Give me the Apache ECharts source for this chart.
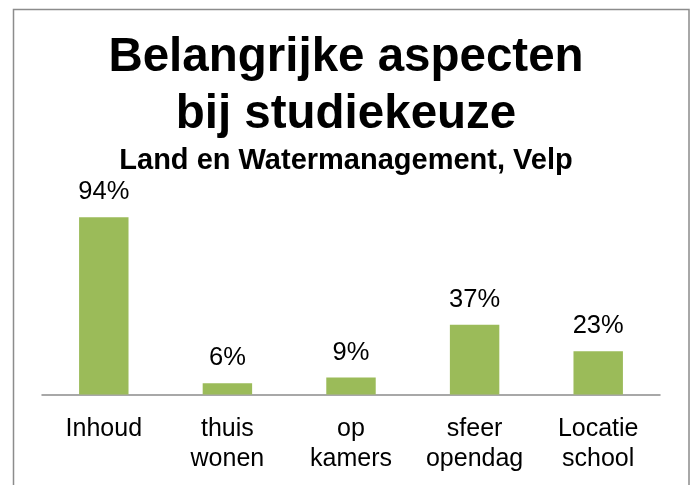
<!DOCTYPE html>
<html>
<head>
<meta charset="utf-8">
<script src="https://cdn.jsdelivr.net/npm/echarts@6/dist/echarts.min.js"></script>
<style>
html,body{margin:0;padding:0;background:#fff;}
#chart{width:692px;height:485px;}
</style>
</head>
<body>
<div id="chart"></div>
<script>
const categories = ["Inhoud", "thuis\nwonen", "op\nkamers", "sfeer\nopendag", "Locatie\nschool"];
const values = [94, 6, 9, 37, 23];
const titleLines = ["Belangrijke aspecten", "bij studiekeuze"];
const subtitle = "Land en Watermanagement, Velp";

const chart = echarts.init(document.getElementById('chart'), null, {renderer: 'canvas'});
const font = 'Liberation Sans, Arial, sans-serif';
chart.setOption({
  animation: false,
  backgroundColor: '#ffffff',
  graphic: [{
    type: 'rect',
    shape: {x: 13.5, y: 9.5, width: 675.5, height: 490},
    style: {fill: 'none', stroke: '#8c8c8c', lineWidth: 1.5},
    silent: true
  }],
  title: [{
    text: titleLines.join('\n'),
    left: 'center',
    top: 25,
    textStyle: {fontFamily: font, fontSize: 47.5, fontWeight: 'bold', color: '#000', lineHeight: 56.5}
  }, {
    text: subtitle,
    left: 'center',
    top: 141,
    textStyle: {fontFamily: font, fontSize: 29, fontWeight: 'bold', color: '#000', lineHeight: 29}
  }],
  grid: {left: 42, right: 32, top: 206, bottom: 90.5, containLabel: false},
  xAxis: {
    type: 'category',
    data: categories,
    axisLine: {lineStyle: {color: '#8c8c8c', width: 1.5}},
    axisTick: {show: false},
    axisLabel: {fontFamily: font, fontSize: 25, color: '#000', lineHeight: 29.5, margin: 20, interval: 0}
  },
  yAxis: {
    type: 'value', min: 0, max: 100, show: false,
    splitLine: {show: false}
  },
  series: [{
    type: 'bar',
    data: values,
    barCategoryGap: '60%',
    itemStyle: {color: '#9bbb59'},
    label: {
      show: true, position: 'top', distance: 12,
      formatter: '{c}%',
      fontFamily: font, fontSize: 25.5, color: '#000'
    }
  }]
});
</script>
</body>
</html>
